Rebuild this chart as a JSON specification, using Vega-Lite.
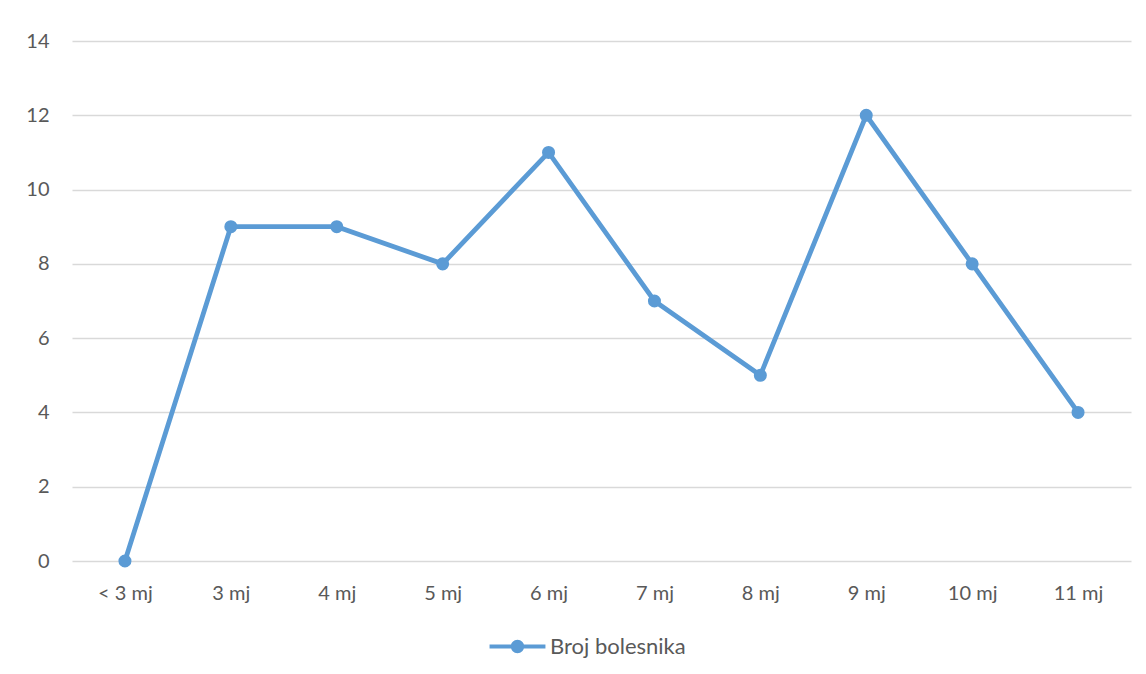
{
  "$schema": "https://vega.github.io/schema/vega-lite/v6.json",
  "autosize": "none",
  "width": 1059,
  "height": 520,
  "padding": {"left": 72, "top": 41, "right": 15, "bottom": 113},
  "background": "#ffffff",
  "data": {"values": [
    {"mjesec": "< 3 mj", "broj": 0, "serija": "Broj bolesnika"},
    {"mjesec": "3 mj", "broj": 9, "serija": "Broj bolesnika"},
    {"mjesec": "4 mj", "broj": 9, "serija": "Broj bolesnika"},
    {"mjesec": "5 mj", "broj": 8, "serija": "Broj bolesnika"},
    {"mjesec": "6 mj", "broj": 11, "serija": "Broj bolesnika"},
    {"mjesec": "7 mj", "broj": 7, "serija": "Broj bolesnika"},
    {"mjesec": "8 mj", "broj": 5, "serija": "Broj bolesnika"},
    {"mjesec": "9 mj", "broj": 12, "serija": "Broj bolesnika"},
    {"mjesec": "10 mj", "broj": 8, "serija": "Broj bolesnika"},
    {"mjesec": "11 mj", "broj": 4, "serija": "Broj bolesnika"}
  ]},
  "encoding": {
    "x": {"field": "mjesec", "type": "nominal", "sort": null, "title": null,
      "scale": {"type": "point", "padding": 0.5},
      "axis": {"labelAngle": 0, "ticks": false, "domain": false, "grid": false, "labelPadding": 22, "labelFontSize": 20, "labelColor": "#595959", "labelFont": "Lato"}},
    "y": {"field": "broj", "type": "quantitative", "title": null,
      "scale": {"domain": [0, 14], "nice": false},
      "axis": {"values": [0, 2, 4, 6, 8, 10, 12, 14], "ticks": false, "domain": false, "grid": true, "gridColor": "#d9d9d9", "gridWidth": 1.5, "labelPadding": 23, "labelFontSize": 20, "labelColor": "#595959", "labelFont": "Lato"}},
    "color": {"field": "serija", "type": "nominal", "title": null,
      "scale": {"range": ["#5B9BD5"]},
      "legend": {
        "orient": "none", "legendX": 434, "legendY": 594, "padding": 0,
        "symbolType": "M-2.5,-0.18H2.5V0.18H-2.5Z M0.6,0A0.6,0.6,0,1,1,-0.6,0A0.6,0.6,0,1,1,0.6,0Z",
        "symbolSize": 500, "labelOffset": 21, "labelFontSize": 22, "labelColor": "#595959", "labelFont": "Lato",
        "encode": {"symbols": {"update": {"fill": {"value": "#5B9BD5"}, "stroke": {"value": "#5B9BD5"}, "strokeWidth": {"value": 0}, "opacity": {"value": 1}}}}
      }}
  },
  "layer": [
    {"mark": {"type": "line", "strokeWidth": 4.8}},
    {"mark": {"type": "point", "filled": true, "size": 170, "opacity": 1}}
  ],
  "config": {"view": {"stroke": null}}
}
